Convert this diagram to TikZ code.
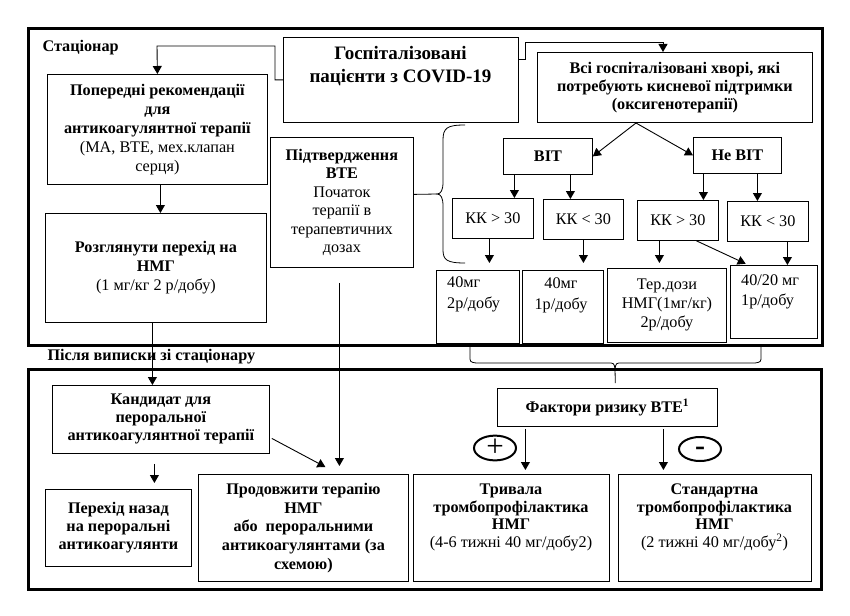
\documentclass[tikz,border=0pt]{standalone}
\usepackage{fontspec}
\setmainfont{Liberation Serif}
\usetikzlibrary{arrows.meta,shapes.geometric}

\begin{document}
\begin{tikzpicture}[x=1pt,y=-1pt,
  every node/.style={font=\fontsize{16.2}{19}\selectfont},
  box/.style={draw,line width=0.8pt,anchor=north west,align=center,inner sep=2pt},
  txt/.style={anchor=north,align=center,inner sep=0pt},
  frame/.style={line width=3pt},
  arr/.style={-{Triangle[length=8pt,width=9pt]},line width=0.9pt},
  sign/.style={draw,ellipse,line width=2pt,minimum width=42pt,minimum height=24pt,inner sep=0pt}]
  \useasboundingbox (0,0) rectangle (850,615);
  % two stages
  \draw[frame] (28,29) rectangle (822,345);
  \draw[frame] (28,369) rectangle (821,589);
  \node[anchor=west,font=\fontsize{16.2}{19}\selectfont\bfseries] (stac) at (39,48) {Стаціонар};
  \node[anchor=west,font=\fontsize{16.2}{19}\selectfont\bfseries] (after) at (44,357) {Після виписки зі стаціонару};
  % hospital
  \node[box,minimum width=235pt,minimum height=85pt] (covid) at (283,37) {};
  \node[txt,font=\fontsize{19}{23}\selectfont\bfseries] (covidt) at (400.5,46) {Госпіталізовані\\пацієнти з COVID-19};
  \node[box,minimum width=220pt,minimum height=110pt] (prev) at (47,74) {\textbf{Попередні рекомендації}\\\textbf{для}\\\textbf{антикоагулянтної терапії}\\(МА, ВТЕ, мех.клапан\\серця)};
  \node[box,minimum width=221pt,minimum height=109pt] (ros) at (45,213) {\textbf{Розглянути перехід на}\\\textbf{НМГ}\\(1 мг/кг 2 р/добу)};
  \node[box,minimum width=275pt,minimum height=70pt,font=\fontsize{16.2}{18}\selectfont\bfseries] (vsi) at (537,52) {Всі госпіталізовані хворі, які\\потребують кисневої підтримки\\(оксигенотерапії)};
  \node[box,minimum width=143pt,minimum height=130pt,font=\fontsize{16.2}{18.5}\selectfont] (pid) at (270,137) {\textbf{Підтвердження}\\\textbf{ВТЕ}\\Початок\\терапії в\\терапевтичних\\дозах};
  \node[box,minimum width=89pt,minimum height=36pt,font=\fontsize{16.2}{19}\selectfont\bfseries] (bit) at (503,138) {ВІТ};
  \node[box,minimum width=88pt,minimum height=36pt,font=\fontsize{16.2}{19}\selectfont\bfseries] (nebit) at (693,137) {Не ВІТ};
  \node[box,minimum width=81pt,minimum height=40pt] (kk1) at (452,198) {КК > 30};
  \node[box,minimum width=80pt,minimum height=40pt] (kk2) at (543,199) {КК < 30};
  \node[box,minimum width=81pt,minimum height=40pt] (kk3) at (637,200) {КК > 30};
  \node[box,minimum width=81pt,minimum height=40pt] (kk4) at (727,201) {КК < 30};
  % doses
  \node[box,minimum width=83pt,minimum height=73pt] (d1) at (436,270) {};
  \node[txt,anchor=north west,align=left,font=\fontsize{16.2}{21}\selectfont] (d1t) at (447,277) {40мг\\2р/добу};
  \node[box,minimum width=81pt,minimum height=73pt] (d2) at (522,270) {};
  \node[txt,font=\fontsize{16.2}{21}\selectfont] (d2t) at (561,278) {40мг\\1р/добу};
  \node[box,minimum width=119pt,minimum height=74pt] (d3) at (607,268) {Тер.дози\\НМГ(1мг/кг)\\2р/добу};
  \node[box,minimum width=87pt,minimum height=73pt] (d4) at (730,265) {};
  \node[txt,anchor=north west,align=left,font=\fontsize{16.2}{20}\selectfont] (d4t) at (741,275) {40/20 мг\\1р/добу};
  % after discharge
  \node[box,minimum width=217pt,minimum height=68pt,font=\fontsize{16.2}{18}\selectfont\bfseries] (kand) at (52,385) {Кандидат для\\пероральної\\антикоагулянтної терапії};
  \node[box,minimum width=146pt,minimum height=77pt,font=\fontsize{16.2}{18}\selectfont\bfseries] (per) at (45,489) {Перехід назад\\на пероральні\\антикоагулянти};
  \node[box,minimum width=210pt,minimum height=107pt,font=\fontsize{16.2}{18.75}\selectfont\bfseries] (prod) at (198,474) {Продовжити терапію\\НМГ\\або~ пероральними\\антикоагулянтами (за\\схемою)};
  \node[box,minimum width=220pt,minimum height=38pt,font=\fontsize{16.2}{19}\selectfont\bfseries] (fak) at (497,388) {Фактори ризику ВТЕ\textsuperscript{1}};
  \node[box,minimum width=196pt,minimum height=107pt] (triv) at (413,474) {};
  \node[txt,font=\fontsize{16.2}{17.5}\selectfont] (trivt) at (511,484) {\textbf{Тривала}\\\textbf{тромбопрофілактика}\\\textbf{НМГ}\\(4-6 тижні 40 мг/добу2)};
  \node[box,minimum width=193pt,minimum height=107pt] (stand) at (618,474) {};
  \node[txt,font=\fontsize{16.2}{17.5}\selectfont] (standt) at (714.5,484) {\textbf{Стандартна}\\\textbf{тромбопрофілактика}\\\textbf{НМГ}\\(2 тижні 40 мг/добу\textsuperscript{2})};
  \node[sign,font=\fontsize{31}{31}\selectfont] (plus) at (495,448) {+};
  \node[sign,font=\fontsize{30}{30}\selectfont\bfseries,text height=13pt,text depth=0pt] (minus) at (700,449) {-};
  % connectors
  \coordinate (tl) at (157,46);
  \coordinate (tr) at (663,42);
  \coordinate (split) at (636,123);
  \coordinate (bcusp) at (437,194);
  \coordinate (bcusp2) at (615,369);
  \draw[arr] (covid.west) -- ++(-8,0) |- (tl) -- (prev.north);
  \draw[arr] ([yshift=20pt]covid.east) -- ++(7,0) |- (tr) -- (tr |- vsi.north);
  \draw[arr] (split) -- (bit.east);
  \draw[arr] (split) -- (nebit.west);
  \draw[arr] ([xshift=-33.5pt]bit.south) -- ([xshift=-33.5pt]bit.south |- kk1.north);
  \draw[arr] ([xshift=22.5pt]bit.south) -- ([xshift=22.5pt]bit.south |- kk2.north);
  \draw[arr] ([xshift=-34pt]nebit.south) -- ([xshift=-34pt]nebit.south |- kk3.north);
  \draw[arr] ([xshift=20pt]nebit.south) -- ([xshift=20pt]nebit.south |- kk4.north);
  \draw[arr,shorten >=7pt] ([xshift=-3.5pt]kk1.south) -- ([xshift=-3.5pt]kk1.south |- d1.north);
  \draw[arr,shorten >=7pt] (kk2.south) -- (kk2.south |- d2.north);
  \draw[arr,shorten >=5pt] ([xshift=-18.5pt]kk3.south) -- ([xshift=-18.5pt]kk3.south |- d3.north);
  \draw[arr,shorten >=3pt] ([xshift=18.5pt]kk3.south) -- ([xshift=-25.5pt]d4.north);
  \draw[arr] ([xshift=19.5pt]kk4.south) -- ([xshift=19.5pt]kk4.south |- d4.north);
  \draw[arr] ([xshift=3pt]prev.south) -- ([xshift=3pt]prev.south |- ros.north);
  \draw[arr] ([xshift=-3.5pt]ros.south) -- ([xshift=-3.5pt]ros.south |- kand.north);
  \draw[arr,shorten <=10pt,shorten >=6pt] ([xshift=-6.5pt]kand.south) -- ([xshift=-6.5pt]kand.south |- per.north);
  \draw[arr] ([xshift=2pt,yshift=-19pt]kand.east) -- ([xshift=22pt,yshift=7pt]prod.north);
  \draw[arr,shorten <=15pt,shorten >=8pt] ([xshift=-2.5pt]pid.south) -- ([xshift=-2.5pt]pid.south |- prod.north);
  \draw[arr,shorten <=2pt,shorten >=4pt] ([xshift=-82pt]fak.south) -- ([xshift=-82pt]fak.south |- triv.north);
  \draw[arr,shorten <=2pt,shorten >=4pt] ([xshift=56pt]fak.south) -- ([xshift=56pt]fak.south |- stand.north);
  % braces
  \draw[line width=0.8pt] ([yshift=8pt]pid.east) -- (bcusp);
  \draw[line width=0.8pt] (465,125) .. controls (447,125) and (443,128) .. (443,140) -- (443,182)
    .. controls (443,190) and (441,194) .. (bcusp) .. controls (441,194) and (443,198) .. (443,206)
    -- (443,250) .. controls (443,260) and (447,263) .. (465,263);
  \draw[line width=0.8pt] (470,346) -- (470,356) .. controls (470,362) .. (476,363) -- (608,363)
    .. controls (614,363) .. (bcusp2) .. controls (616,363) .. (622,363) -- (755,363)
    .. controls (761,362) .. (761,356) -- (761,346);
  \draw[line width=0.8pt,shorten <=5pt] ([xshift=8pt]fak.north) -- (bcusp2);
\end{tikzpicture}
\end{document}
